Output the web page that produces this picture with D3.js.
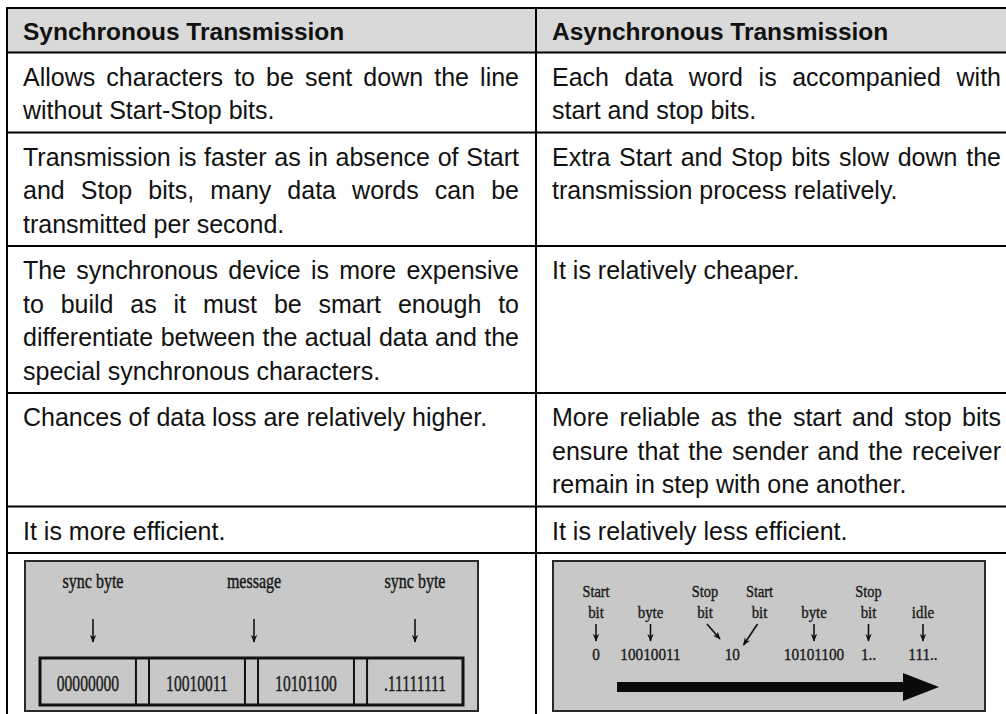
<!DOCTYPE html>
<html><head><meta charset="utf-8">
<script src="https://cdn.jsdelivr.net/npm/d3@7"></script>
<style>html,body{margin:0;padding:0;background:#fff;overflow:hidden}</style>
</head><body>
<svg id="c" width="1006" height="714"></svg>
<script>
// ---------- data ----------
const headers = ["Synchronous Transmission", "Asynchronous Transmission"];
const syncRows = [
  ["Allows characters to be sent down the line", "without Start-Stop bits."],
  ["Transmission is faster as in absence of Start", "and Stop bits, many data words can be", "transmitted per second."],
  ["The synchronous device is more expensive", "to build as it must be smart enough to", "differentiate between the actual data and the", "special synchronous characters."],
  ["Chances of data loss are relatively higher."],
  ["It is more efficient."]
];
const asyncRows = [
  ["Each data word is accompanied with", "start and stop bits."],
  ["Extra Start and Stop bits slow down the", "transmission process relatively."],
  ["It is relatively cheaper."],
  ["More reliable as the start and stop bits", "ensure that the sender and the receiver", "remain in step with one another."],
  ["It is relatively less efficient."]
];
const syncLabels = ["sync byte", "message", "sync byte"];
const syncBytes = ["00000000", "10010011", "10101100", ".11111111"];
const asyncTop = ["Start", "", "Stop", "Start", "", "Stop", ""];
const asyncMid = ["bit", "byte", "bit", "bit", "byte", "bit", "idle"];
const asyncArrow = ["down", "down", "right", "left", "down", "down", "down"];
const asyncBits = ["0", "10010011", "10", "10101100", "1..", "111.."];
const asyncBitCols = [[0], [1], [2, 3], [4], [5], [6]];

// ---------- layout ----------
const svg = d3.select("#c");
const W = 1006, H = 714;
const lineH = 33.5, pad = 13, headPad = 11;
const top0 = 8;
const colEdges = [7, 536, 1018];
const textPad = 16;
const bodyFont = "'Liberation Sans', Arial, sans-serif";
const serif = "'Liberation Serif', 'Times New Roman', serif";

const nLines = syncRows.map((r, i) => Math.max(r.length, asyncRows[i].length));
const heights = [lineH + headPad].concat(nLines.map(n => n * lineH + pad));
const tops = [top0].concat(Array.from(d3.cumsum(heights), v => top0 + v));
const rowY = d3.scaleOrdinal().domain(d3.range(tops.length)).range(tops);
const colX = d3.scaleOrdinal().domain([0, 1]).range([colEdges[0], colEdges[1]]);
const colX1 = d3.scaleOrdinal().domain([0, 1]).range([colEdges[1], colEdges[2]]);

// header background
svg.append("rect")
  .attr("x", colEdges[0]).attr("y", rowY(0))
  .attr("width", colEdges[2] - colEdges[0]).attr("height", heights[0])
  .attr("fill", "#d9d9d9");

// text helper with justification
function drawLine(g, text, x0, x1, y, justify) {
  const words = text.split(" ");
  const t = g.append("text").attr("y", y);
  if (!justify || words.length < 2) { t.attr("x", x0).text(text); return; }
  const spans = words.map(w => t.append("tspan").text(w));
  const ws = spans.map(s => s.node().getComputedTextLength());
  const gap = (x1 - x0 - d3.sum(ws)) / (words.length - 1);
  let x = x0;
  spans.forEach((s, i) => { s.attr("x", x); x += ws[i] + gap; });
}

// header text
const hg = svg.append("g").attr("font-family", bodyFont).attr("font-size", 24.5)
  .attr("font-weight", "bold").attr("fill", "#111");
headers.forEach((h, c) => drawLine(hg, h, colX(c) + textPad, colX1(c) - textPad, rowY(0) + 31.5, false));

// body text
const bg = svg.append("g").attr("font-family", bodyFont).attr("font-size", 25).attr("fill", "#111");
[syncRows, asyncRows].forEach((rows, c) => {
  rows.forEach((lines, r) => {
    lines.forEach((ln, k) => {
      drawLine(bg, ln, colX(c) + textPad, colX1(c) - textPad - 1,
        rowY(r + 1) + 33 + k * lineH, k < lines.length - 1);
    });
  });
});

// grid lines
const grid = svg.append("g").attr("stroke", "#000").attr("stroke-width", 2);
tops.forEach(y => grid.append("line").attr("x1", colEdges[0] - 1).attr("x2", colEdges[2]).attr("y1", y).attr("y2", y));
colEdges.forEach(x => grid.append("line").attr("x1", x).attr("x2", x).attr("y1", top0 - 1).attr("y2", H));

// arrow marker
const defs = svg.append("defs");
defs.append("marker").attr("id", "ah").attr("viewBox", "0 0 10 10").attr("refX", 9).attr("refY", 5)
  .attr("markerWidth", 8).attr("markerHeight", 8).attr("markerUnits", "userSpaceOnUse")
  .attr("orient", "auto").append("path").attr("d", "M0,1 L10,5 L0,9 L3,5 Z").attr("fill", "#111");

function condText(g, txt, x, y, size, sx) {
  g.append("text").attr("transform", `translate(${x},${y}) scale(${sx},1)`)
    .attr("text-anchor", "middle").attr("font-size", size).text(txt);
}

// ---------- left diagram ----------
const dTop = rowY(6);
const lb = { x0: colX(0) + 18, x1: colX1(0) - 58, y0: dTop + 8, y1: dTop + 158 };
const L = svg.append("g").attr("font-family", serif).attr("fill", "#1a1a1a")
  .attr("stroke", "#1a1a1a").attr("stroke-width", 0.45);
L.append("rect").attr("x", lb.x0).attr("y", lb.y0).attr("width", lb.x1 - lb.x0).attr("height", lb.y1 - lb.y0)
  .attr("fill", "#c8c8c8").attr("stroke", "#2a2a2a").attr("stroke-width", 2);
const labX = d3.scalePoint().domain(d3.range(syncLabels.length)).range([lb.x0 + 68, lb.x1 - 63]);
syncLabels.forEach((s, i) => {
  condText(L, s, labX(i), lb.y0 + 27, 20, 0.8);
  L.append("line").attr("x1", labX(i)).attr("x2", labX(i)).attr("y1", lb.y0 + 58).attr("y2", lb.y0 + 81)
    .attr("stroke", "#111").attr("stroke-width", 1.6).attr("marker-end", "url(#ah)");
});
const byteX = d3.scaleBand().domain(d3.range(syncBytes.length)).range([lb.x0 + 15, lb.x1 - 15]).paddingInner(0.12);
const by0 = lb.y0 + 97, by1 = lb.y0 + 144;
L.append("rect").attr("x", byteX.range()[0]).attr("y", by0).attr("width", byteX.range()[1] - byteX.range()[0])
  .attr("height", by1 - by0).attr("fill", "none").attr("stroke", "#111").attr("stroke-width", 3);
syncBytes.forEach((b, i) => {
  L.append("rect").attr("x", byteX(i)).attr("y", by0).attr("width", byteX.bandwidth()).attr("height", by1 - by0)
    .attr("fill", "none").attr("stroke", "#111").attr("stroke-width", 2);
  condText(L, b, byteX(i) + byteX.bandwidth() / 2, lb.y0 + 130, 24, 0.65);
});

// ---------- right diagram ----------
const rb = { x0: colX(1) + 17, x1: colX1(1) - 33, y0: dTop + 8, y1: dTop + 158 };
const R = svg.append("g").attr("font-family", serif).attr("fill", "#1a1a1a")
  .attr("stroke", "#1a1a1a").attr("stroke-width", 0.4);
R.append("rect").attr("x", rb.x0).attr("y", rb.y0).attr("width", rb.x1 - rb.x0).attr("height", rb.y1 - rb.y0)
  .attr("fill", "#c8c8c8").attr("stroke", "#2a2a2a").attr("stroke-width", 2);
const ax = d3.scalePoint().domain(d3.range(asyncMid.length)).range([rb.x0 + 43, rb.x1 - 62]);
asyncMid.forEach((m, i) => {
  const x = ax(i);
  if (asyncTop[i]) condText(R, asyncTop[i], x, rb.y0 + 36, 17.5, 0.82);
  condText(R, m, x, rb.y0 + 57, 17.5, 0.85);
  let x1 = x, y1 = rb.y0 + 63, x2 = x, y2 = rb.y0 + 80;
  if (asyncArrow[i] === "right") { x1 = x + 2; x2 = x + 15; y2 = rb.y0 + 78; }
  if (asyncArrow[i] === "left") { x1 = x - 2; x2 = x - 16; y2 = rb.y0 + 84; }
  R.append("line").attr("x1", x1).attr("y1", y1).attr("x2", x2).attr("y2", y2)
    .attr("stroke", "#111").attr("stroke-width", 1.6).attr("marker-end", "url(#ah)");
});
asyncBits.forEach((b, i) => {
  condText(R, b, d3.mean(asyncBitCols[i], c => ax(c)), rb.y0 + 99, 17.5, 0.87);
});
const arY = rb.y0 + 126, arX0 = rb.x0 + 64, arX1 = rb.x1 - 46, headL = 36;
R.append("path")
  .attr("d", `M${arX0},${arY - 5} L${arX1 - headL},${arY - 5} L${arX1 - headL},${arY - 14} L${arX1},${arY} L${arX1 - headL},${arY + 14} L${arX1 - headL},${arY + 5} L${arX0},${arY + 5} Z`)
  .attr("fill", "#0a0a0a").attr("stroke", "none");
</script>
</body></html>
